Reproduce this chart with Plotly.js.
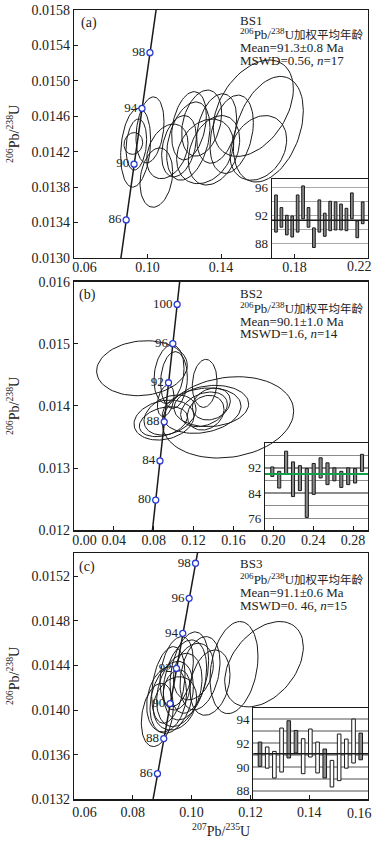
<!DOCTYPE html>
<html>
<head>
<meta charset="utf-8">
<script src="https://cdn.plot.ly/plotly-3.0.1.min.js"></script>
<style>
body { margin: 0; background: #fff; }
#chart { width: 376px; height: 842px; }
</style>
</head>
<body>
<div id="chart"></div>
<script>
// concordia reference points: age (Ma), 207Pb/235U, 206Pb/238U
const concAge = [76, 78, 80, 82, 84, 86, 88, 90, 92, 94, 96, 98, 100, 102, 104];
const concX = [0.07772, 0.07985, 0.08198, 0.08411, 0.08625, 0.08839, 0.09053, 0.09268,
               0.09484, 0.09700, 0.09916, 0.10133, 0.10350, 0.10567, 0.10785];
const concY = [0.011859, 0.012173, 0.012487, 0.012801, 0.013116, 0.013430, 0.013745, 0.014059,
               0.014374, 0.014689, 0.015003, 0.015318, 0.015634, 0.015949, 0.016264];
const markAgesA = [86, 90, 94, 98];
const markAgesB = [80, 84, 88, 92, 96, 100];
const markAgesC = [86, 88, 90, 92, 94, 96, 98];

// BS1 spot ellipses: 207/235 centre, half width, 206/238 centre, half height, correlation
const aX   = [0.09356, 0.09392, 0.09229, 0.10136, 0.10481, 0.11080, 0.11714, 0.12222, 0.12259,
              0.12948, 0.13619, 0.13129, 0.13764, 0.15760, 0.16576, 0.14581, 0.16032];
const aSx  = [0.00816, 0.00562, 0.00508, 0.00762, 0.00889, 0.01125, 0.00943, 0.01179, 0.00943,
              0.01088, 0.01397, 0.01542, 0.01088, 0.02177, 0.01905, 0.01179, 0.01542];
const aY   = [0.014246, 0.014281, 0.014293, 0.014446, 0.013908, 0.014204, 0.014262, 0.014320, 0.014493,
              0.014523, 0.014216, 0.014204, 0.014462, 0.014691, 0.014454, 0.014397, 0.014243];
const aSy  = [0.000446, 0.000288, 0.000123, 0.000373, 0.000335, 0.000308, 0.000346, 0.000442, 0.000385,
              0.000373, 0.000392, 0.000365, 0.000392, 0.000544, 0.000596, 0.000442, 0.000365];
const aRho = [0.2, 0.2, 0.1, 0.25, 0.2, 0.3, 0.3, 0.35, 0.3, 0.3, 0.3, 0.25, 0.3, 0.4, 0.35, 0.3, 0.25];

// BS2
const bX   = [0.06823, 0.09532, 0.10034, 0.13111, 0.15453, 0.09031, 0.08964, 0.09633, 0.12810,
              0.13780, 0.13044, 0.13212, 0.09198, 0.13780];
const bSx  = [0.04549, 0.01505, 0.01338, 0.01238, 0.06589, 0.03010, 0.02408, 0.02609, 0.03947,
              0.03746, 0.02341, 0.01840, 0.00836, 0.01906];
const bY   = [0.014608, 0.014512, 0.014418, 0.014364, 0.013817, 0.013774, 0.013748, 0.013855, 0.013925,
              0.014000, 0.013946, 0.013892, 0.014085, 0.014032];
const bSy  = [0.000442, 0.000469, 0.000456, 0.000386, 0.000654, 0.000322, 0.000241, 0.000322, 0.000365,
              0.000332, 0.000279, 0.000279, 0.000252, 0.000257];
const bRho = [0.1, 0.2, 0.1, 0.1, 0.15, 0.2, 0.3, 0.3, 0.2, 0.1, 0.3, 0.2, 0.3, 0.2];

// BS3
const cX   = [0.12463, 0.11442, 0.10626, 0.10286, 0.09923, 0.09776, 0.09583, 0.09322, 0.08835,
              0.09152, 0.09492, 0.09435, 0.09492, 0.10059, 0.09209];
const cSx  = [0.01338, 0.00816, 0.00680, 0.00680, 0.00658, 0.00737, 0.00771, 0.00737, 0.00544,
              0.00680, 0.00567, 0.00737, 0.00454, 0.00680, 0.00567];
const cY   = [0.014412, 0.014382, 0.014247, 0.014331, 0.014337, 0.014271, 0.014181, 0.014115, 0.013957,
              0.014097, 0.014346, 0.014061, 0.014181, 0.014346, 0.014226];
const cSy  = [0.000383, 0.000413, 0.000293, 0.000329, 0.000365, 0.000359, 0.000329, 0.000323, 0.000284,
              0.000293, 0.000314, 0.000239, 0.000180, 0.000254, 0.000344];
const cRho = [0.4, 0.25, 0.25, 0.3, 0.3, 0.3, 0.3, 0.3, 0.25, 0.2, 0.3, 0.2, 0.2, 0.25, 0.3];

// 206Pb/238U ages per spot (Ma): lower and upper ends of error bars
const aLow  = [89.6, 90.3, 89.2, 88.9, 89.6, 91.5, 90.3, 87.4, 89.6, 89.0, 89.8, 89.9, 89.9, 89.8, 91.5, 88.8, 90.8];
const aHigh = [94.9, 93.1, 92.0, 91.9, 94.9, 96.2, 93.1, 90.2, 94.2, 92.3, 94.0, 93.9, 93.6, 93.0, 95.2, 91.2, 93.9];
const bLow  = [89.3, 85.6, 89.9, 82.9, 84.8, 76.3, 83.6, 88.8, 86.7, 87.9, 85.8, 86.7, 87.2, 90.9];
const bHigh = [92.3, 90.9, 97.3, 93.9, 92.7, 91.8, 93.4, 95.2, 93.6, 92.0, 90.9, 92.0, 91.8, 96.3];
const cLow  = [90.05, 89.9, 89.08, 89.58, 90.75, 91.17, 89.44, 90.83, 89.5, 89.08, 88.33, 88.86, 89.9, 90.33, 90.6];
const cHigh = [92.08, 91.67, 91.3, 93.25, 93.86, 93.05, 92.36, 93.17, 92.08, 91.5, 90.55, 92.75, 92.33, 94.0, 92.83];
const means = [91.3, 90.1, 91.1];

// tick labels
const aXTicks = [0.06, 0.10, 0.14, 0.18, 0.22];
const aYTicks = [0.0130, 0.0134, 0.0138, 0.0142, 0.0146, 0.0150, 0.0154, 0.0158];
const bXTicks = [0.00, 0.04, 0.08, 0.12, 0.16, 0.20, 0.24, 0.28];
const bYTicks = [0.012, 0.013, 0.014, 0.015, 0.016];
const cXTicks = [0.06, 0.08, 0.10, 0.12, 0.14, 0.16];
const cYTicks = [0.0132, 0.0136, 0.0140, 0.0144, 0.0148, 0.0152];

const samples = ['BS1', 'BS2', 'BS3'];
const meanTxt = ['Mean=91.3±0.8 Ma', 'Mean=90.1±1.0 Ma', 'Mean=91.1±0.6 Ma'];
const mswdTxt = ['MSWD=0.56, <i>n</i>=17', 'MSWD=1.6, <i>n</i>=14', 'MSWD=0. 46, <i>n</i>=15'];

const FONT = 'Liberation Serif, "Noto Sans CJK SC", serif';
const INK = '#1a1a1a';
const BLUE = '#2b3bd0';
const PAD = '\u00a0\u00a0\u00a0\u00a0\u00a0\u00a0';

function ellipses(xs, sxs, ys, sys, rhos) {
  const ex = [], ey = [];
  xs.forEach((cx, i) => {
    const k = Math.sqrt(1 - rhos[i] * rhos[i]);
    for (let j = 0; j <= 80; j++) {
      const t = j / 80 * 2 * Math.PI;
      ex.push(cx + sxs[i] * Math.cos(t));
      ey.push(ys[i] + sys[i] * (rhos[i] * Math.cos(t) + k * Math.sin(t)));
    }
    ex.push(null); ey.push(null);
  });
  return { ex, ey };
}

// first label nudged right; the label at the right edge is drawn as an annotation
function xLabels(vals, dropLast) {
  return vals.map((v, i) => {
    if (dropLast && i === vals.length - 1) return '';
    return (i === 0 ? PAD : '') + v.toFixed(2);
  });
}

const traces = [];
const panels = [
  { e: ellipses(aX, aSx, aY, aSy, aRho), marks: markAgesA, xa: 'x', ya: 'y' },
  { e: ellipses(bX, bSx, bY, bSy, bRho), marks: markAgesB, xa: 'x2', ya: 'y2' },
  { e: ellipses(cX, cSx, cY, cSy, cRho), marks: markAgesC, xa: 'x3', ya: 'y3' }
];
panels.forEach(p => {
  traces.push({
    x: p.e.ex, y: p.e.ey, xaxis: p.xa, yaxis: p.ya, mode: 'lines', type: 'scatter',
    line: { color: INK, width: 1 }, hoverinfo: 'skip'
  });
  traces.push({
    x: concX, y: concY, xaxis: p.xa, yaxis: p.ya, mode: 'lines', type: 'scatter',
    line: { color: INK, width: 1.5 }
  });
  const idx = concAge.map((a, i) => p.marks.includes(a) ? i : -1).filter(i => i >= 0);
  traces.push({
    x: idx.map(i => concX[i]), y: idx.map(i => concY[i]), text: idx.map(i => String(concAge[i])),
    xaxis: p.xa, yaxis: p.ya, mode: 'markers+text', type: 'scatter', textposition: 'middle left',
    textfont: { family: FONT, size: 13, color: '#222' },
    marker: { size: 6, color: '#fff', line: { color: BLUE, width: 1.3 } }
  });
});

// inset weighted-mean bars
const cFill = ['#8a8a8a', '#fff', '#fff', '#fff', '#8a8a8a', '#8a8a8a', '#fff', '#fff', '#fff',
               '#8a8a8a', '#fff', '#fff', '#fff', '#fff', '#8a8a8a'];
[[aLow, aHigh, 'x4', 'y4', '#8a8a8a', 0.5],
 [bLow, bHigh, 'x5', 'y5', '#8a8a8a', 0.45],
 [cLow, cHigh, 'x6', 'y6', cFill, 0.5]].forEach(([lo, hi, xa, ya, fill, w]) => {
  traces.push({
    type: 'bar', x: lo.map((v, i) => i + 1), base: lo, y: lo.map((v, i) => hi[i] - v),
    xaxis: xa, yaxis: ya, width: w,
    marker: { color: fill, line: { color: INK, width: 1 } }
  });
});

const mainX = [0.19681, 0.97872];
function mainAxis(extra) {
  return Object.assign({
    ticks: 'inside', ticklen: 4, tickwidth: 1, tickcolor: INK,
    showline: true, mirror: true, linecolor: INK, linewidth: 1.2,
    showgrid: false, zeroline: false, tickmode: 'array',
    tickfont: { family: FONT, size: 14, color: '#222' }
  }, extra);
}
function insetY(extra) {
  return Object.assign({
    ticks: '', showline: true, mirror: true, linecolor: INK, linewidth: 1.2,
    zeroline: false, showgrid: true, gridcolor: '#a8a8a8', gridwidth: 1.5,
    tickmode: 'linear', tick0: 0,
    tickfont: { family: FONT, size: 13, color: '#222' }
  }, extra);
}
function insetX(extra) {
  return Object.assign({
    ticks: '', showticklabels: false, showline: true, mirror: true, linecolor: INK,
    linewidth: 1.2, zeroline: false, showgrid: false
  }, extra);
}

const layout = {
  width: 376, height: 842,
  margin: { l: 0, r: 0, t: 0, b: 0 },
  paper_bgcolor: '#fff', plot_bgcolor: 'rgba(0,0,0,0)',
  showlegend: false,
  font: { family: FONT, size: 14, color: '#222' },
  xaxis: mainAxis({ domain: mainX, anchor: 'y', range: [0.06, 0.22], tickvals: aXTicks,
                    ticktext: xLabels(aXTicks, true), ticklabelstandoff: -4 }),
  yaxis: mainAxis({ domain: [0.69359, 0.98812], anchor: 'x', range: [0.0130, 0.0158], tickvals: aYTicks, tickformat: '.4f' }),
  xaxis2: mainAxis({ domain: mainX, anchor: 'y2', range: [0, 0.295], tickvals: bXTicks,
                     ticktext: xLabels(bXTicks, false), ticklabelstandoff: -3 }),
  yaxis2: mainAxis({ domain: [0.37019, 0.66544], anchor: 'x2', range: [0.012, 0.016], tickvals: bYTicks, tickformat: '.3f' }),
  xaxis3: mainAxis({ domain: mainX, anchor: 'y3', range: [0.06, 0.16], tickvals: cXTicks,
                     ticktext: xLabels(cXTicks, true), ticklabelstandoff: 0 }),
  yaxis3: mainAxis({ domain: [0.05071, 0.34323], anchor: 'x3', range: [0.0132, 0.01541], tickvals: cYTicks, tickformat: '.4f' }),
  xaxis4: insetX({ domain: [0.72261, 0.97872], anchor: 'y4', range: [0.21, 17.98] }),
  yaxis4: insetY({ domain: [0.69359, 0.78705], anchor: 'x4', range: [85.9, 97.14], dtick: 4,
                   minor: { tick0: 0, dtick: 2, showgrid: true, gridcolor: '#a8a8a8', gridwidth: 1.5 } }),
  xaxis5: insetX({ domain: [0.70479, 0.97872], anchor: 'y5', range: [-0.06, 14.87] }),
  yaxis5: insetY({ domain: [0.37019, 0.47352], anchor: 'x5', range: [72.2, 99.8], dtick: 8, tick0: 4,
                   gridcolor: '#8c8c8c',
                   minor: { tick0: 0, dtick: 4, showgrid: true, gridcolor: '#8c8c8c', gridwidth: 1.5 } }),
  xaxis6: insetX({ domain: [0.67367, 0.97872], anchor: 'y6', range: [0.07, 16.01] }),
  yaxis6: insetY({ domain: [0.05071, 0.15879], anchor: 'x6', range: [87.3, 94.9], dtick: 2,
                   minor: { tick0: 0, dtick: 1, showgrid: true, gridcolor: '#a8a8a8', gridwidth: 1.5 } }),
  shapes: [
    { type: 'line', xref: 'x4 domain', x0: 0, x1: 1, yref: 'y4', y0: means[0], y1: means[0], line: { color: INK, width: 1.5 } },
    { type: 'line', xref: 'x5 domain', x0: 0, x1: 1, yref: 'y5', y0: means[1], y1: means[1], line: { color: '#13a04a', width: 2 } },
    { type: 'line', xref: 'x6 domain', x0: 0, x1: 1, yref: 'y6', y0: means[2], y1: means[2], line: { color: INK, width: 1.5 } }
  ],
  annotations: []
};

// panel text blocks
const textRows = [
  [0.97542, 0.95926, 0.94382, 0.92791],
  [0.65166, 0.63385, 0.61876, 0.60416],
  [0.33017, 0.31200, 0.29608, 0.28064]
];
const tagPos = [[0.2380, 0.97304, '(a)'], [0.2340, 0.64964, '(b)'], [0.2306, 0.32625, '(c)']];
const yTitleY = [0.84086, 0.51781, 0.19715];
samples.forEach((s, i) => {
  const lines = [s, '<sup>206</sup>Pb/<sup>238</sup>U<span style="font-size:11.5px">加权平均年龄</span>',
                 meanTxt[i], mswdTxt[i]];
  lines.forEach((t, j) => {
    layout.annotations.push({
      xref: 'paper', yref: 'paper', x: 0.6330, y: textRows[i][j], xanchor: 'left', yanchor: 'middle',
      text: t, showarrow: false, font: { family: FONT, size: 13, color: '#222' }
    });
  });
  layout.annotations.push({
    xref: 'paper', yref: 'paper', x: tagPos[i][0], y: tagPos[i][1], xanchor: 'center', yanchor: 'middle',
    text: tagPos[i][2], showarrow: false, font: { family: FONT, size: 14, color: '#222' }
  });
  layout.annotations.push({
    xref: 'paper', yref: 'paper', x: 0.03457, y: yTitleY[i], xanchor: 'center', yanchor: 'middle',
    text: '<sup>206</sup>Pb/<sup>238</sup>U', textangle: -90, showarrow: false,
    font: { family: FONT, size: 14, color: '#222' }
  });
});
// right-edge x tick labels of panels (a) and (c)
[[aXTicks, 0.68325], [cXTicks, 0.03444]].forEach(([ticks, y]) => {
  layout.annotations.push({
    xref: 'paper', yref: 'paper', x: 0.9947, y: y, xanchor: 'right', yanchor: 'middle',
    text: ticks[ticks.length - 1].toFixed(2), showarrow: false,
    font: { family: FONT, size: 14, color: '#222' }
  });
});
layout.annotations.push({
  xref: 'paper', yref: 'paper', x: 0.58777, y: 0.01425, xanchor: 'center', yanchor: 'middle',
  text: '<sup>207</sup>Pb/<sup>235</sup>U', showarrow: false, font: { family: FONT, size: 14, color: '#222' }
});

Plotly.newPlot('chart', traces, layout, { displayModeBar: false, staticPlot: true });
</script>
</body>
</html>
